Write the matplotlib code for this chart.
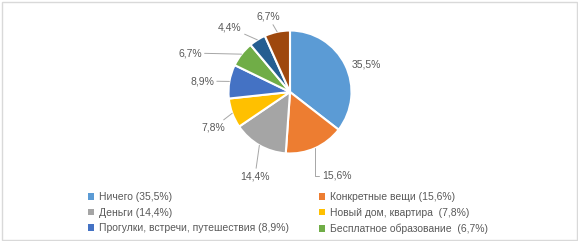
import numpy as np
import matplotlib
matplotlib.use("Agg")
import matplotlib.pyplot as plt
from matplotlib.patches import Patch, Rectangle

# data
categories = ["Ничего", "Конкретные вещи", "Деньги", "Новый дом, квартира",
              "Прогулки, встречи, путешествия", "Бесплатное образование",
              "Другое 1", "Другое 2"]
shares = [35.5, 15.6, 14.4, 7.8, 8.9, 6.7, 4.4, 6.7]
colors = ["#5B9BD5", "#ED7D31", "#A5A5A5", "#FFC000",
          "#4472C4", "#70AD47", "#255E91", "#9E480E"]
legend_labels = ["Ничего (35,5%)", "Конкретные вещи (15,6%)", "Деньги (14,4%)",
                 "Новый дом, квартира  (7,8%)",
                 "Прогулки, встречи, путешествия (8,9%)",
                 "Бесплатное образование  (6,7%)"]

# label layout: (distance in radii, angle in degrees) of each value label
label_pos = [(1.31, 19.6), (1.56, -60.8), (1.48, -112.6), (1.37, -155.0),
             (1.44, 172.9), (1.745, 158.7), (1.43, 133.0), (1.27, 106.0)]

plt.rcParams["font.family"] = ["Liberation Sans", "DejaVu Sans"]
txt_color = "#595959"
W, H = 578, 241
fig = plt.figure(figsize=(W / 100, H / 100), dpi=100)
ax = fig.add_axes([0, 0, 1, 1])

cx, cy, R = 290, 149, 61.5
wedges, _ = ax.pie(shares, colors=colors, startangle=90, counterclock=False,
                   center=(cx, cy), radius=R, frame=True,
                   wedgeprops=dict(edgecolor="white", linewidth=1.5))
ax.set_xlim(0, W)
ax.set_ylim(0, H)
ax.axis("off")

for i, w in enumerate(wedges):
    mid = np.deg2rad((w.theta1 + w.theta2) / 2)
    d, a = label_pos[i]
    tx = cx + d * R * np.cos(np.deg2rad(a))
    ty = cy + d * R * np.sin(np.deg2rad(a))
    ex = cx + R * np.cos(mid)
    ey = cy + R * np.sin(mid)
    text = f"{shares[i]:.1f}%".replace(".", ",")
    if i == 0:
        ax.text(tx, ty, text, ha="center", va="center", fontsize=7.5, color=txt_color)
    elif i == 1:
        ax.annotate(text, xy=(ex, ey), xytext=(tx, ty), ha="center", va="center",
                    fontsize=7.5, color=txt_color,
                    arrowprops=dict(arrowstyle="-", color="#A6A6A6", lw=0.7,
                                    shrinkA=0, shrinkB=0, relpos=(0, 0.5),
                                    connectionstyle="angle,angleA=0,angleB=90,rad=0"))
    else:
        ax.annotate(text, xy=(ex, ey), xytext=(tx, ty), ha="center", va="center",
                    fontsize=7.5, color=txt_color,
                    arrowprops=dict(arrowstyle="-", color="#A6A6A6", lw=0.7,
                                    shrinkA=0, shrinkB=0))

# legend, filled row by row like the original
order = [0, 2, 4, 1, 3, 5]
handles = [Patch(facecolor=colors[k], edgecolor="none") for k in order]
labels = [legend_labels[k] for k in order]
fig.legend(handles, labels, ncol=2, loc="upper left", bbox_to_anchor=(88 / W, 1 - 192 / H),
           frameon=False, fontsize=7.5, labelcolor=txt_color,
           handlelength=0.6, handleheight=0.6, handletextpad=0.45,
           columnspacing=2.85, labelspacing=0.55, borderpad=0, borderaxespad=0)

fig.patches.append(Rectangle((1.5 / W, 1.5 / H), 1 - 3 / W, 1 - 3 / H,
                             transform=fig.transFigure, fill=False,
                             edgecolor="#D9D9D9", linewidth=1))
fig.savefig("out.png", dpi=100)
